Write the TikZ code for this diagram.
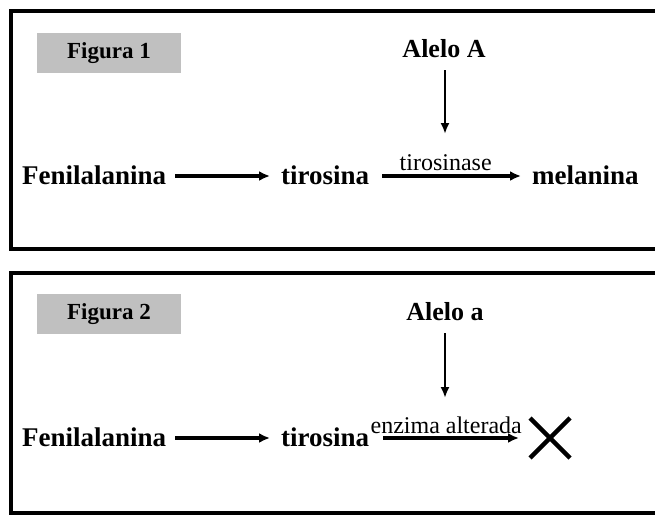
\documentclass[tikz,border=0pt]{standalone}
\usepackage{fontspec}
\setmainfont{Liberation Serif}
\usetikzlibrary{arrows.meta}
\definecolor{labelgrey}{HTML}{C0C0C0}
\tikzset{
  frame/.style={draw=black, line width=3.5pt},
  figlabel/.style={fill=labelgrey, minimum width=144pt, minimum height=40pt, inner sep=0pt,
                   font=\fontsize{23}{26}\selectfont\bfseries},
  term/.style={inner sep=0pt, font=\fontsize{27}{32}\selectfont\bfseries},
  allele/.style={inner sep=0pt, font=\fontsize{26}{30}\selectfont\bfseries},
  enzyme/.style={inner sep=0pt, font=\fontsize{24}{28}\selectfont},
  react/.style={line width=3.2pt, -{Latex[length=11pt,width=10pt]}},
  induce/.style={line width=2.2pt, -{Latex[length=11pt,width=9pt]}},
  crossmark/.style={line width=4.5pt}
}
\begin{document}
\begin{tikzpicture}[x=1pt, y=-1pt]
\useasboundingbox (0,0) rectangle (655,514);
\clip (0,0) rectangle (655,514);
\fill[white] (0,0) rectangle (655,514);

% ---------- Figura 1 ----------
\draw[frame] (11,11) rectangle (680,249);
\node[figlabel] (fig1) at (109,53) {Figura 1};
\node[allele, anchor=base] (alA) at (444,57) {Alelo A};
\node[term, anchor=base west] (fen1) at (22,184) {Fenilalanina};
\node[term, anchor=base west] (tir1) at (281,184) {tirosina};
\node[term, anchor=base west] (mel) at (532,184) {melanina};
\coordinate (startA) at (445,70);
\coordinate (tipA) at (445,134);
\draw[react] ([xshift=9pt,yshift=8pt]fen1.base east) -- ([xshift=-11pt,yshift=8pt]tir1.base west);
\draw[react] ([xshift=13pt,yshift=8pt]tir1.base east) -- ([xshift=-11pt,yshift=8pt]mel.base west)
  node[enzyme, midway, above=4pt, xshift=-6pt] (tyr) {tirosinase};
\draw[induce] (startA) -- (tipA);

% ---------- Figura 2 ----------
\draw[frame] (11,273) rectangle (680,513);
\node[figlabel] (fig2) at (109,314) {Figura 2};
\node[allele, anchor=base] (ala) at (445,320) {Alelo a};
\node[term, anchor=base west] (fen2) at (22,446) {Fenilalanina};
\node[term, anchor=base west] (tir2) at (281,446) {tirosina};
\coordinate (xmark) at (550,438);
\coordinate (starta) at (445,333);
\coordinate (tipa) at (445,398);
\draw[react] ([xshift=9pt,yshift=8pt]fen2.base east) -- ([xshift=-11pt,yshift=8pt]tir2.base west);
\draw[react] ([xshift=14pt,yshift=8pt]tir2.base east) -- ([xshift=-31pt,yshift=8pt]xmark |- tir2.base)
  node[enzyme, midway, above=3pt, xshift=-5pt] (alt) {enzima alterada};
\draw[induce] (starta) -- (tipa);
\draw[crossmark] ([xshift=-20pt,yshift=20pt]xmark) -- ([xshift=20pt,yshift=-20pt]xmark)
                 ([xshift=-20pt,yshift=-20pt]xmark) -- ([xshift=20pt,yshift=20pt]xmark);
\end{tikzpicture}
\end{document}
